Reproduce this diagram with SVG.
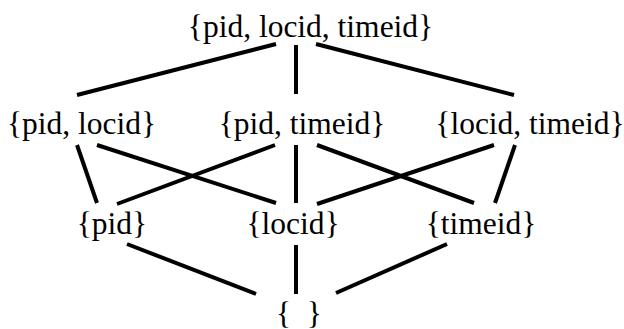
<svg xmlns="http://www.w3.org/2000/svg" width="624" height="329" viewBox="0 0 624 329">
<style>
text{font-family:"Liberation Serif","Times New Roman",serif;font-size:31.5px;fill:#000;text-anchor:middle}
.c line{stroke:#000;stroke-width:4;stroke-linecap:butt}
</style>
<rect width="624" height="329" fill="#fff"/>
<g class="c" id="connectors">
<line x1="276" y1="44" x2="77" y2="95"/>
<line x1="296" y1="45" x2="296" y2="94"/>
<line x1="316" y1="44" x2="514" y2="95"/>
<line x1="77" y1="145" x2="97" y2="203"/>
<line x1="97" y1="145" x2="276" y2="203"/>
<line x1="275" y1="145" x2="117" y2="204"/>
<line x1="296" y1="145" x2="296" y2="203"/>
<line x1="317" y1="145" x2="474" y2="203"/>
<line x1="494" y1="145" x2="317" y2="204"/>
<line x1="515" y1="145" x2="495" y2="203"/>
<line x1="127" y1="244" x2="256" y2="294"/>
<line x1="296" y1="245" x2="296" y2="294"/>
<line x1="447" y1="244" x2="336" y2="293"/>
</g>
<g id="n-plt"><text x="310.5" y="37">{pid, locid, timeid}</text></g>
<g id="n-pl"><text x="81.5" y="134">{pid, locid}</text></g>
<g id="n-pt"><text x="302" y="134">{pid, timeid}</text></g>
<g id="n-lt"><text x="530" y="134">{locid, timeid}</text></g>
<g id="n-p"><text x="112" y="234">{pid}</text></g>
<g id="n-l"><text x="293" y="234">{locid}</text></g>
<g id="n-t"><text x="481" y="234">{timeid}</text></g>
<g id="n-empty"><text x="299" y="324" xml:space="preserve">{  }</text></g>
</svg>
